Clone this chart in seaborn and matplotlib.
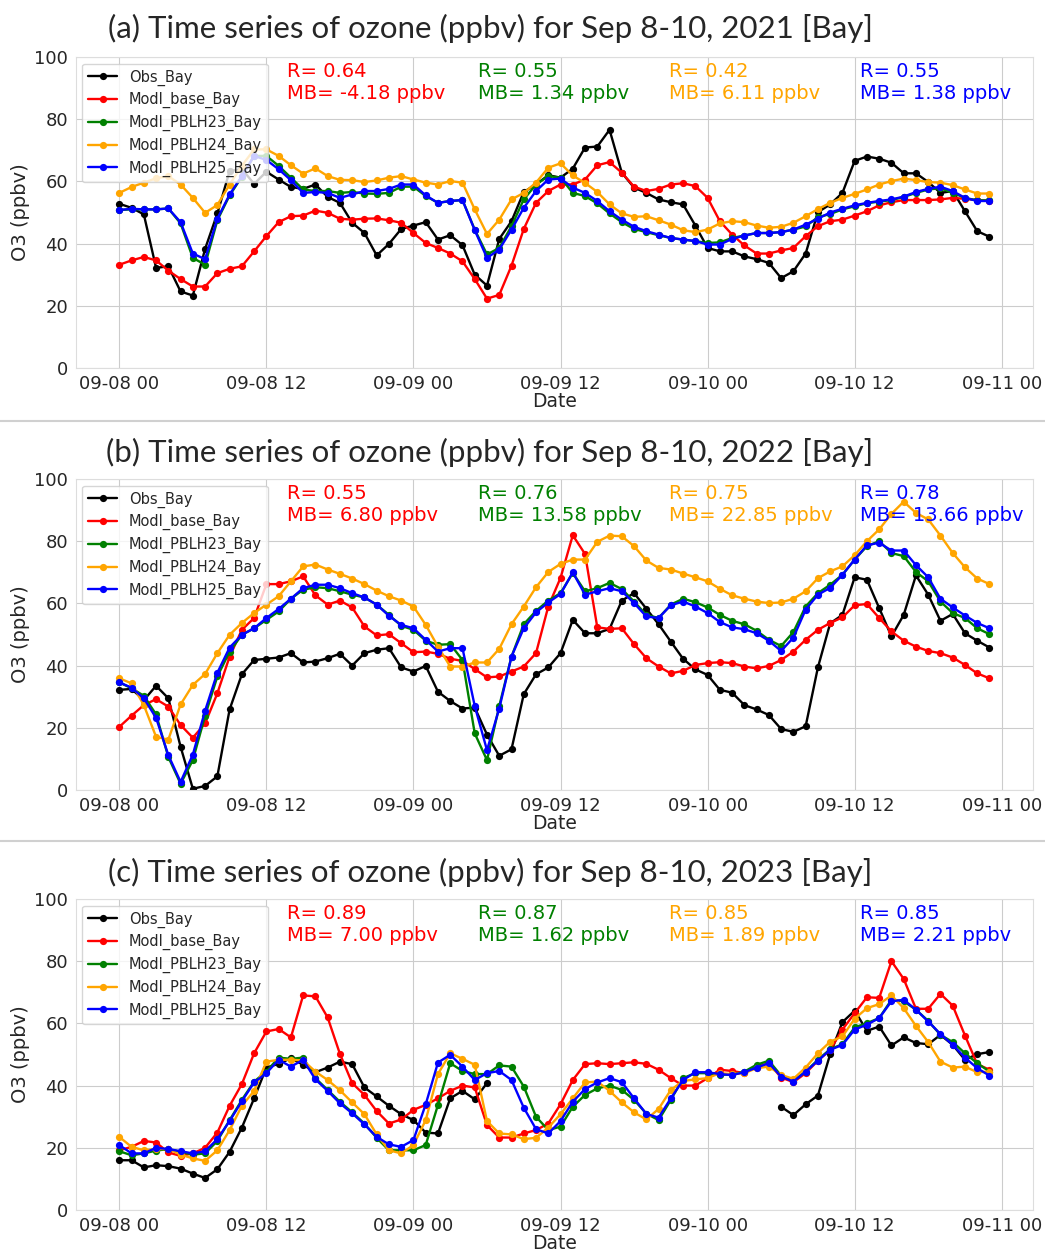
import numpy as np
import pandas as pd
import matplotlib
matplotlib.use("Agg")
import matplotlib.pyplot as plt
import matplotlib.dates as mdates
from matplotlib.lines import Line2D
import seaborn as sns

# ---------------------------------------------------------------- data
series_names = ["Obs_Bay", "Modl_base_Bay", "Modl_PBLH23_Bay",
                "Modl_PBLH24_Bay", "Modl_PBLH25_Bay"]
series_colors = ["black", "red", "green", "orange", "blue"]

years = [2021, 2022, 2023]
panel_tags = ["(a)", "(b)", "(c)"]

# hourly ozone (ppbv), 09-08 00 .. 09-10 23
obs_2021 = [52.8, 51.5, 49.4, 32.2, 32.7, 24.6, 23.3, 38.3, 49.7, 63.3, 64.0, 59.2, 63.1, 60.6, 58.2, 57.6, 59.0, 55.0,
            53.1, 46.7, 43.4, 36.2, 39.9, 44.7, 45.8, 46.9, 41.3, 42.7, 39.5, 30.0, 26.5, 41.5, 47.2, 56.6, 59.0, 62.0,
            61.2, 64.1, 70.9, 71.2, 76.6, 62.8, 58.0, 56.3, 54.2, 53.3, 52.6, 45.8, 38.6, 37.5, 37.5, 35.9, 35.0, 33.8,
            28.9, 31.1, 36.8, 50.1, 52.6, 56.3, 66.6, 68.0, 67.3, 66.0, 62.6, 62.6, 59.8, 56.3, 56.9, 50.4, 44.0, 42.2]
base_2021 = [33.2, 34.6, 35.7, 34.6, 31.3, 28.6, 26.2, 26.2, 30.5, 31.9, 32.7, 37.5, 42.4, 46.9, 48.8, 49.0, 50.6, 49.9,
             48.0, 47.7, 48.0, 48.1, 47.5, 46.7, 43.4, 40.2, 38.6, 36.8, 34.3, 28.6, 22.3, 23.5, 32.9, 44.7, 53.1, 56.9,
             59.0, 59.0, 60.6, 65.2, 66.2, 62.8, 58.3, 56.9, 57.6, 59.0, 59.4, 58.5, 54.7, 47.2, 42.9, 39.4, 36.8, 36.8,
             37.8, 38.6, 42.4, 45.6, 47.2, 47.7, 49.0, 50.4, 52.3, 53.3, 54.0, 54.0, 54.0, 54.2, 54.7, 54.4, 54.0, 53.7]
pblh23_2021 = [50.8, 51.0, 51.0, 51.0, 51.3, 46.5, 35.4, 33.2, 47.5, 55.5, 61.5, 68.2, 68.2, 65.0, 61.2, 57.4, 56.9, 56.9,
               56.3, 56.6, 56.1, 56.0, 56.3, 58.3, 58.3, 55.3, 53.1, 53.7, 54.0, 44.5, 36.5, 38.6, 45.6, 54.2, 59.0, 61.7,
               61.2, 56.3, 55.3, 52.9, 49.7, 46.9, 44.7, 43.7, 42.7, 41.8, 41.3, 40.8, 40.2, 40.4, 41.8, 42.6, 43.4, 43.4,
               43.7, 44.5, 45.5, 48.5, 49.5, 51.0, 52.0, 53.0, 53.5, 54.0, 55.0, 56.3, 57.4, 57.8, 56.3, 54.7, 53.9, 53.9]
pblh24_2021 = [56.3, 58.2, 59.6, 61.0, 61.7, 59.0, 54.7, 49.9, 52.4, 59.0, 65.0, 70.3, 70.3, 68.2, 65.2, 62.5, 64.2, 61.7,
               60.5, 60.4, 59.8, 60.3, 61.2, 61.7, 60.6, 59.6, 59.0, 60.1, 59.6, 51.0, 43.1, 47.7, 54.2, 56.3, 59.6, 64.4,
               65.8, 61.9, 59.5, 56.6, 52.6, 49.7, 48.6, 48.8, 47.5, 46.1, 44.3, 43.7, 44.5, 46.5, 47.2, 46.9, 45.8, 45.1,
               45.4, 46.7, 48.8, 51.1, 53.1, 54.7, 56.0, 57.4, 59.0, 60.1, 60.9, 60.4, 59.8, 59.6, 58.8, 57.4, 56.1, 56.1]
pblh25_2021 = [50.8, 51.2, 51.0, 51.0, 51.3, 46.9, 36.8, 35.0, 48.0, 55.8, 61.7, 68.2, 66.9, 63.9, 60.4, 56.3, 56.6, 56.3,
               54.7, 55.8, 56.9, 56.9, 57.6, 59.0, 59.0, 55.5, 53.1, 53.7, 54.0, 44.3, 35.4, 38.1, 44.5, 51.5, 56.9, 60.6,
               60.9, 58.0, 56.3, 53.7, 50.4, 47.7, 45.4, 44.0, 42.9, 41.8, 41.3, 40.8, 39.7, 39.7, 41.5, 42.6, 43.4, 43.4,
               43.7, 44.5, 46.1, 48.0, 50.0, 51.2, 52.3, 53.1, 53.7, 54.2, 55.1, 56.6, 57.6, 58.3, 56.9, 54.7, 53.7, 53.7]

obs_2022 = [32.2, 32.5, 28.9, 33.5, 29.5, 13.9, 0.4, 1.3, 4.4, 25.9, 37.2, 41.8, 42.2, 42.6, 44.0, 41.0, 41.3, 42.4,
            43.8, 40.0, 44.0, 45.1, 45.6, 39.4, 38.1, 39.9, 31.6, 28.6, 26.2, 26.5, 17.8, 11.0, 13.1, 30.8, 37.2, 39.4,
            44.0, 54.7, 50.4, 50.4, 51.8, 60.9, 63.3, 58.3, 53.3, 47.7, 42.2, 38.8, 37.0, 32.2, 31.3, 27.3, 25.9, 24.1,
            19.6, 18.7, 20.5, 39.4, 53.6, 56.3, 68.4, 67.6, 58.5, 49.4, 56.3, 69.0, 62.8, 54.4, 56.6, 50.4, 48.0, 45.8]
base_2022 = [20.3, 23.9, 27.3, 29.2, 26.8, 20.9, 16.8, 21.4, 31.1, 42.9, 51.5, 55.3, 66.2, 66.2, 67.1, 68.7, 62.6, 59.6,
             60.9, 58.7, 52.6, 49.7, 50.1, 47.2, 44.3, 44.5, 43.8, 42.2, 41.5, 38.9, 36.2, 36.5, 38.1, 39.7, 44.0, 59.0,
             68.2, 81.9, 75.9, 52.3, 51.8, 52.0, 46.9, 42.4, 39.7, 37.5, 38.3, 40.2, 40.8, 41.1, 40.8, 39.7, 39.1, 39.9,
             41.8, 44.5, 48.3, 51.5, 53.7, 55.5, 59.4, 59.8, 55.3, 51.0, 48.0, 46.1, 44.7, 44.0, 42.6, 40.2, 37.5, 35.9]
pblh23_2022 = [34.6, 32.7, 30.3, 24.3, 10.6, 2.0, 9.6, 23.9, 36.5, 44.5, 49.9, 52.0, 54.7, 57.4, 61.5, 64.4, 65.2, 64.9,
               63.9, 62.8, 61.9, 59.6, 56.3, 52.8, 51.5, 48.0, 46.7, 46.9, 41.8, 18.2, 9.6, 27.0, 42.9, 53.3, 57.6, 60.9,
               63.3, 69.8, 63.9, 64.9, 66.6, 64.6, 60.6, 56.3, 55.3, 59.6, 61.5, 60.4, 58.7, 56.3, 54.4, 53.3, 51.2, 48.3,
               46.3, 50.8, 59.0, 63.3, 66.0, 69.2, 74.1, 78.4, 80.0, 76.2, 75.2, 70.1, 67.1, 60.6, 56.9, 55.3, 52.0, 50.1]
pblh24_2022 = [35.9, 34.3, 27.3, 17.1, 16.2, 27.5, 33.8, 37.3, 44.0, 49.9, 53.7, 56.9, 59.6, 62.3, 67.1, 71.9, 72.5, 70.9,
               69.5, 68.0, 66.2, 64.1, 62.3, 60.9, 59.0, 53.1, 46.1, 39.7, 39.7, 41.0, 41.0, 45.4, 53.3, 59.0, 65.2, 70.1,
               72.7, 74.1, 74.1, 79.8, 81.8, 81.6, 78.4, 73.8, 71.4, 70.9, 69.6, 68.4, 67.1, 64.7, 62.6, 61.5, 60.6, 60.1,
               60.3, 61.5, 63.9, 68.1, 70.3, 71.9, 75.5, 80.0, 83.8, 88.8, 92.7, 89.1, 87.0, 81.8, 76.2, 71.6, 68.0, 66.2]
pblh25_2022 = [34.6, 32.9, 29.5, 23.2, 11.2, 2.6, 11.4, 25.5, 37.7, 45.8, 49.9, 52.0, 55.3, 58.2, 61.5, 64.9, 66.0, 66.0,
               64.9, 63.3, 61.9, 59.6, 56.0, 53.1, 52.0, 48.3, 44.5, 45.6, 45.6, 27.0, 12.8, 26.2, 42.9, 52.0, 57.1, 60.3,
               63.0, 70.0, 62.8, 63.9, 64.9, 63.9, 60.1, 55.8, 55.3, 59.4, 60.6, 59.0, 56.9, 54.0, 52.3, 51.7, 50.4, 48.0,
               44.7, 49.0, 58.0, 62.8, 65.0, 69.2, 74.1, 78.7, 79.5, 77.0, 77.0, 72.3, 68.4, 61.5, 58.7, 56.1, 53.7, 52.0]

nan = np.nan
obs_2023 = [16.0, 16.0, 13.7, 14.4, 14.1, 13.3, 11.7, 10.3, 13.1, 18.7, 26.5, 35.9, 45.8, 47.0, 48.8, 46.7, 44.3, 45.8,
            47.7, 46.9, 39.4, 36.5, 33.5, 30.8, 28.9, 24.9, 24.6, 35.9, 38.3, 35.6, 40.8, nan, nan, nan, nan, nan,
            nan, nan, nan, nan, nan, nan, nan, nan, nan, nan, nan, nan, nan, nan, nan, nan, nan, nan,
            33.2, 30.5, 34.0, 36.8, 50.1, 60.4, 64.1, 57.6, 59.0, 52.9, 55.5, 53.7, 53.3, 56.3, 53.1, 48.3, 50.1, 50.8]
base_2023 = [19.2, 20.3, 22.2, 21.7, 18.5, 17.4, 18.2, 20.0, 24.9, 33.5, 40.5, 50.4, 57.4, 58.2, 55.5, 69.0, 68.7, 61.9,
             50.2, 40.8, 37.0, 31.8, 27.8, 29.1, 32.2, 33.8, 35.9, 38.3, 40.0, 39.4, 27.3, 23.3, 23.3, 24.6, 25.7, 27.8,
             34.0, 41.8, 46.9, 47.2, 46.9, 47.2, 47.5, 47.0, 45.1, 42.4, 40.0, 40.0, 42.4, 45.1, 44.7, 44.0, 46.1, 47.2,
             42.6, 41.1, 44.0, 48.0, 51.5, 58.0, 63.3, 68.4, 68.2, 80.0, 74.3, 64.7, 64.7, 69.5, 65.7, 56.1, 46.9, 45.1]
pblh23_2023 = [18.9, 17.6, 18.2, 19.1, 19.6, 18.7, 17.8, 18.2, 22.2, 28.9, 35.4, 41.3, 44.5, 49.0, 48.6, 49.0, 42.4, 38.6,
               34.8, 31.4, 27.8, 23.2, 19.2, 19.2, 19.2, 20.9, 33.8, 47.2, 44.7, 43.7, 43.7, 46.5, 46.1, 39.7, 30.0, 25.7,
               26.8, 33.2, 37.0, 39.1, 40.0, 38.6, 35.4, 31.0, 28.9, 35.4, 42.4, 44.0, 44.0, 43.5, 43.5, 44.5, 46.7, 48.0,
               43.2, 41.5, 44.5, 48.3, 51.7, 53.3, 58.7, 60.1, 61.7, 67.6, 67.1, 64.4, 60.8, 56.3, 54.0, 50.4, 47.2, 44.5]
pblh24_2023 = [23.5, 20.3, 19.2, 19.6, 19.6, 17.8, 16.6, 15.8, 19.2, 25.7, 33.5, 38.3, 47.7, 48.3, 48.3, 48.1, 44.5, 41.8,
               38.5, 34.6, 30.8, 24.3, 19.2, 18.2, 20.9, 28.9, 43.7, 50.4, 48.6, 46.7, 28.6, 24.6, 24.3, 22.8, 23.2, 26.5,
               30.8, 35.9, 41.0, 41.3, 38.3, 34.6, 31.4, 29.1, 32.5, 38.6, 41.5, 42.0, 42.4, 44.0, 43.7, 44.0, 45.6, 46.1,
               43.4, 42.2, 45.8, 50.4, 54.1, 55.8, 61.5, 64.9, 66.2, 69.0, 64.9, 59.2, 54.0, 47.7, 45.8, 46.1, 44.3, 44.5]
pblh25_2023 = [20.9, 18.2, 18.2, 20.0, 19.6, 18.9, 18.2, 18.9, 22.8, 28.6, 35.0, 41.0, 44.0, 48.3, 46.1, 48.3, 42.0, 38.3,
               34.3, 31.1, 27.5, 23.5, 21.1, 20.3, 22.5, 34.0, 47.4, 49.9, 46.1, 41.8, 44.0, 44.7, 41.8, 32.9, 26.0, 24.6,
               28.6, 34.8, 38.9, 41.0, 42.4, 41.1, 35.9, 30.9, 29.7, 35.9, 41.8, 44.3, 44.3, 43.7, 43.4, 44.3, 45.8, 47.2,
               42.9, 41.3, 44.5, 48.0, 51.5, 53.1, 58.0, 59.6, 61.7, 67.1, 67.6, 64.4, 60.6, 56.6, 53.1, 49.0, 45.6, 43.2]

panel_series = [
    [obs_2021, base_2021, pblh23_2021, pblh24_2021, pblh25_2021],
    [obs_2022, base_2022, pblh23_2022, pblh24_2022, pblh25_2022],
    [obs_2023, base_2023, pblh23_2023, pblh24_2023, pblh25_2023],
]

# correlation / mean bias of each model run against observations
r_values = [["0.64", "0.55", "0.42", "0.55"],
            ["0.55", "0.76", "0.75", "0.78"],
            ["0.89", "0.87", "0.85", "0.85"]]
mb_values = [["-4.18", "1.34", "6.11", "1.38"],
             ["6.80", "13.58", "22.85", "13.66"],
             ["7.00", "1.62", "1.89", "2.21"]]

# ---------------------------------------------------------------- figure
sns.set_style("whitegrid")
plt.rcParams["font.family"] = ["DejaVu Sans"]

W, H = 1045, 1252
fig = plt.figure(figsize=(W / 100, H / 100), dpi=100)

ax_left, ax_right = 75.8, 1033.0
ax_tops = [57, 479, 899]
ax_h = 311
title_y = [28, 452, 872]

palette = dict(zip(series_names, series_colors))


def long_frame(values_list, start):
    times = pd.date_range(start, periods=72, freq="h")
    frames = []
    for name, vals in zip(series_names, values_list):
        s = pd.Series(vals, dtype=float)
        seg = s.isna().cumsum()          # break the line across missing hours
        df = pd.DataFrame({"time": times, "O3": s.values,
                           "series": name, "seg": seg.values})
        frames.append(df.dropna(subset=["O3"]))
    return pd.concat(frames, ignore_index=True)


for i, year in enumerate(years):
    top = ax_tops[i]
    ax = fig.add_axes([ax_left / W, 1 - (top + ax_h) / H,
                       (ax_right - ax_left) / W, ax_h / H])
    start = pd.Timestamp(f"{year}-09-08 00:00")
    data = long_frame(panel_series[i], start)

    sns.lineplot(data=data, x="time", y="O3", hue="series",
                 hue_order=series_names, palette=palette,
                 units="seg", estimator=None, sort=True,
                 marker="o", markersize=5.2, markeredgewidth=0,
                 linewidth=1.7, legend=False, ax=ax)

    ax.set_xlim(start - pd.Timedelta(hours=3.55),
                start + pd.Timedelta(hours=74.55))
    ax.set_ylim(0, 100)
    ax.set_yticks([0, 20, 40, 60, 80, 100])
    ax.xaxis.set_major_locator(mdates.HourLocator(byhour=[0, 12]))
    ax.xaxis.set_major_formatter(mdates.DateFormatter("%m-%d %H"))
    ax.tick_params(axis="y", labelsize=13, pad=2)
    ax.tick_params(axis="x", labelsize=13, pad=1.5)
    ax.set_xlabel("Date", fontsize=13.5, labelpad=-0.5)
    ax.set_ylabel("O3 (ppbv)", fontsize=14, labelpad=3)
    for sp in ax.spines.values():
        sp.set_color("#dddddd")

    handles = [Line2D([], [], color=c, marker="o", markersize=5.2,
                      markeredgewidth=0, linewidth=1.7)
               for c in series_colors]
    ax.legend(handles, series_names, loc="upper left", fontsize=10.5,
              frameon=True, framealpha=0.8, borderaxespad=0.45,
              labelspacing=0.45)

    for j in range(4):
        ax.text(0.2206 + 0.1997 * j, 0.985,
                f"R= {r_values[i][j]}\nMB= {mb_values[i][j]} ppbv",
                transform=ax.transAxes, ha="left", va="top",
                fontsize=14, color=series_colors[j + 1], linespacing=1.2)

    fig.text(490 / W, 1 - title_y[i] / H,
             f"{panel_tags[i]} Time series of ozone (ppbv) for Sep 8-10, {year} [Bay]",
             ha="center", va="center", fontsize=22.5, family=["Lato", "DejaVu Sans"])

# thin rules between the stacked panels
for y in (421, 841):
    fig.add_artist(Line2D([0, 1], [1 - y / H, 1 - y / H],
                          transform=fig.transFigure, color="#d0d0d0", linewidth=1.5))

fig.savefig("out.png", dpi=100)
